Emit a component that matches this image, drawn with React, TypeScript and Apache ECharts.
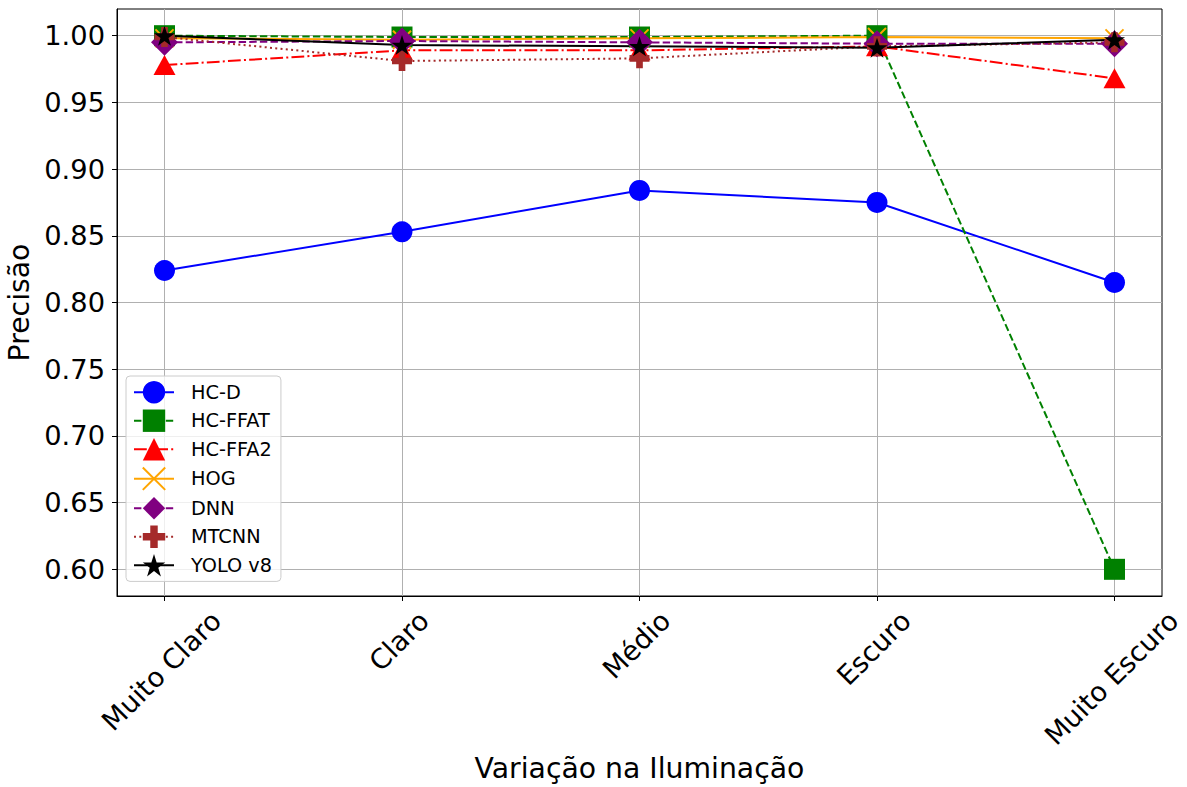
import React, { useEffect, useRef } from "react";
import * as echarts from "echarts";

const categories = ["Muito Claro", "Claro", "Médio", "Escuro", "Muito Escuro"];
const hcD = [0.824, 0.853, 0.884, 0.875, 0.815];
const hcFFAT = [1.0, 0.999, 0.999, 1.0, 0.6];
const hcFFA2 = [0.978, 0.989, 0.989, 0.992, 0.968];
const hog = [0.998, 0.997, 0.998, 0.999, 0.998];
const dnn = [0.995, 0.996, 0.995, 0.994, 0.994];
const mtcnn = [0.999, 0.981, 0.983, 0.992, 0.995];
const yolo = [1.0, 0.993, 0.992, 0.991, 0.997];
const yTicks = [0.6, 0.65, 0.7, 0.75, 0.8, 0.85, 0.9, 0.95, 1.0];
const xTicks = [0, 1, 2, 3, 4];

const FONT = "DejaVu Sans";
const TICKF = 27.3;
const NAMEF = 28.3;
const STAR =
  "path://M0,-10L2.245,-3.09L9.511,-3.09L3.633,1.18L5.878,8.09L0,3.82L-5.878,8.09L-3.633,1.18L-9.511,-3.09L-2.245,-3.09Z";
const PLUS = "path://M1,0H2V1H3V2H2V3H1V2H0V1H1Z";
const XMARK = "path://M0,0L10,10M10,0L0,10";

function pairs(vals: number[]) {
  return vals.map((v, i) => [i, v]);
}

export default function App() {
  const ref = useRef<HTMLDivElement>(null);
  useEffect(() => {
    if (!ref.current) return;
    const chart = echarts.init(ref.current, null, { renderer: "svg" });
    const mk = (
      name: string,
      vals: number[],
      color: string,
      type: any,
      symbol: string,
      size: any,
      extraItem: any = {}
    ) => ({
      name,
      type: "line",
      data: pairs(vals),
      symbol,
      symbolSize: size,
      showSymbol: true,
      lineStyle: { color, width: 2, type },
      itemStyle: { color, ...extraItem },
      emphasis: { disabled: true },
    });
    chart.setOption({
      animation: false,
      backgroundColor: "#ffffff",
      textStyle: { fontFamily: FONT },
      grid: {
        left: 117,
        right: 25,
        top: 9,
        bottom: 191,
        containLabel: false,
        outerBoundsMode: "none",
        show: true,
        borderColor: "#000",
        borderWidth: 1,
        backgroundColor: "transparent",
      },
      legend: {
        left: 126,
        top: 376,
        orient: "vertical",
        itemWidth: 40,
        itemHeight: 28,
        itemGap: 6.1,
        padding: [5, 9, 5, 7],
        backgroundColor: "rgba(255,255,255,0.8)",
        borderColor: "#cccccc",
        borderWidth: 1,
        borderRadius: 4,
        textStyle: { fontSize: 19.3, color: "#000", fontFamily: FONT, padding: [0, 0, 0, 12] },
        data: ["HC-D", "HC-FFAT", "HC-FFA2", "HOG", "DNN", "MTCNN", "YOLO v8"],
      },
      xAxis: {
        type: "value",
        min: -0.2,
        max: 4.2,
        name: "Variação na Iluminação",
        nameLocation: "middle",
        nameGap: 158,
        nameTextStyle: { fontSize: NAMEF, color: "#000", fontFamily: FONT },
        axisLine: { show: true, onZero: false, lineStyle: { color: "#000", width: 1 } },
        axisTick: { show: true, length: 5, customValues: xTicks, lineStyle: { color: "#000", width: 1 } },
        axisLabel: { show: false, customValues: xTicks },
        splitLine: { show: true, lineStyle: { color: "#b0b0b0", width: 1 } },
      },
      yAxis: {
        type: "value",
        min: 0.58,
        max: 1.02,
        name: "Precisão",
        nameLocation: "middle",
        nameGap: 79,
        nameTextStyle: { fontSize: NAMEF, color: "#000", fontFamily: FONT },
        axisLine: { show: true, onZero: false, lineStyle: { color: "#000", width: 1 } },
        axisTick: { show: true, length: 5, customValues: yTicks, lineStyle: { color: "#000", width: 1 } },
        axisLabel: {
          customValues: yTicks,
          fontSize: TICKF,
          color: "#000",
          fontFamily: FONT,
          margin: 12,
          formatter: (v: number) => v.toFixed(2),
        },
        splitLine: { show: true, lineStyle: { color: "#b0b0b0", width: 1 } },
      },
      series: [
        mk("HC-D", hcD, "#0000ff", "solid", "circle", 21),
        mk("HC-FFAT", hcFFAT, "#008000", [7.4, 3.2], "rect", 21),
        mk("HC-FFA2", hcFFA2, "#ff0000", [12.8, 3.2, 2, 3.2], "triangle", [22, 20]),
        mk("HOG", hog, "#ffa500", "solid", XMARK, 18, { borderColor: "#ffa500", borderWidth: 2 }),
        mk("DNN", dnn, "#800080", [7.4, 3.2], "diamond", 27),
        mk("MTCNN", mtcnn, "#a52a2a", [2, 3.3], PLUS, 20),
        mk("YOLO v8", yolo, "#000000", "solid", STAR, [21, 20]),
      ],
    });

    // rotated category labels (matplotlib-style: centered under each tick)
    const canvas = document.createElement("canvas");
    const ctx = canvas.getContext("2d")!;
    const fs = TICKF;
    ctx.font = `${fs}px "${FONT}"`;
    const axisY = chart.convertToPixel({ yAxisIndex: 0 }, 0.58) as number;
    const graphics = categories.map((c, i) => {
      const tx = chart.convertToPixel({ xAxisIndex: 0 }, xTicks[i]) as number;
      const L = ctx.measureText(c).width;
      const cy = axisY + 9 + (L + 31) * 0.3536;
      return {
        type: "text",
        x: tx - 3,
        y: cy,
        rotation: Math.PI / 4,
        style: {
          text: c,
          fontSize: fs,
          fontFamily: FONT,
          fill: "#000",
          align: "center",
          verticalAlign: "middle",
        },
      };
    });
    chart.setOption({ graphic: graphics });

    return () => chart.dispose();
  }, []);
  return (
    <div
      ref={ref}
      style={{ position: "fixed", left: 0, top: 0, width: 1187, height: 787, background: "#fff" }}
    />
  );
}
